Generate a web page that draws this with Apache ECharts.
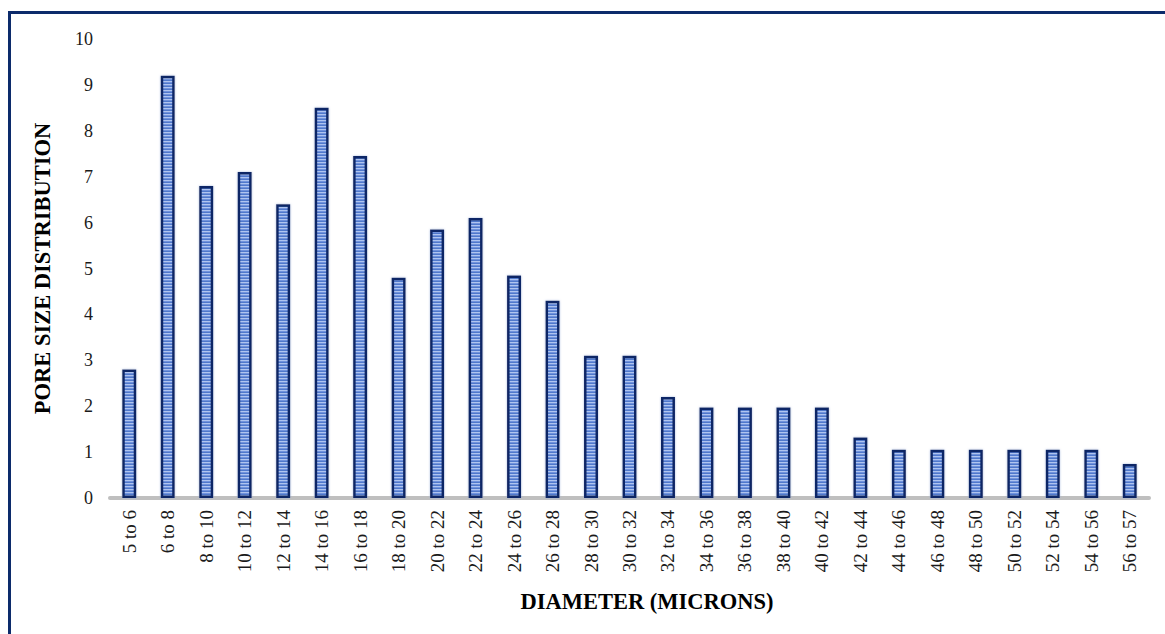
<!DOCTYPE html>
<html>
<head>
<meta charset="utf-8">
<title>Pore size distribution</title>
<script src="https://cdn.jsdelivr.net/npm/echarts@6/dist/echarts.min.js"></script>
<style>
  html, body { margin: 0; padding: 0; background: #fff; }
  #container1 { width: 1165px; height: 634px; }
</style>
</head>
<body>
<div id="container1"></div>
<script>
var categories = ['5 to 6', '6 to 8', '8 to 10', '10 to 12', '12 to 14', '14 to 16', '16 to 18',
    '18 to 20', '20 to 22', '22 to 24', '24 to 26', '26 to 28', '28 to 30', '30 to 32',
    '32 to 34', '34 to 36', '36 to 38', '38 to 40', '40 to 42', '42 to 44', '44 to 46',
    '46 to 48', '48 to 50', '50 to 52', '52 to 54', '54 to 56', '56 to 57'];
var poreValues = [2.8, 9.2, 6.8, 7.1, 6.4, 8.5, 7.45,
    4.8, 5.85, 6.1, 4.85, 4.3, 3.1, 3.1,
    2.2, 1.97, 1.97, 1.97, 1.97, 1.32, 1.05,
    1.05, 1.05, 1.05, 1.05, 1.05, 0.74];
var yTicks = [0, 10, 1];   // min, max, interval

var serif = '"Liberation Serif", "DejaVu Serif", serif';

// horizontal stripe fill like the excel "narrow horizontal" pattern
function stripeImage() {
    var c = document.createElement('canvas');
    c.width = 4;
    c.height = 3;
    var ctx = c.getContext('2d');
    ctx.fillStyle = '#afc4ef';
    ctx.fillRect(0, 0, 4, 1);
    ctx.fillStyle = '#6f92dc';
    ctx.fillRect(0, 1, 4, 1);
    ctx.fillStyle = '#5078cb';
    ctx.fillRect(0, 2, 4, 1);
    return c.toDataURL();
}

var dom = document.getElementById("container1");
var myChart = echarts.init(dom, null, { renderer: 'svg' });

var option = {
    animation: false,
    grid: { left: 110, right: 16, top: 39, bottom: 136 },
    xAxis: {
        type: 'category',
        data: categories,
        axisLine: { lineStyle: { color: '#bfbfbf', width: 4 } },
        axisTick: { show: false },
        axisLabel: {
            rotate: 90,
            margin: 12,
            interval: 0,
            color: '#1a1a1a',
            fontFamily: serif,
            fontSize: 19
        }
    },
    yAxis: {
        type: 'value',
        min: yTicks[0],
        max: yTicks[1],
        interval: yTicks[2],
        name: 'PORE SIZE DISTRIBUTION',
        nameLocation: 'middle',
        nameRotate: 90,
        nameGap: 56,
        nameTextStyle: { fontFamily: serif, fontSize: 22.5, fontWeight: 'bold', color: '#000' },
        axisLine: { show: false },
        axisTick: { show: false },
        splitLine: { show: false },
        axisLabel: { margin: 17, color: '#1a1a1a', fontFamily: serif, fontSize: 18 }
    },
    series: [{
        type: 'bar',
        data: poreValues,
        barWidth: 14,
        itemStyle: {
            color: { image: stripeImage(), repeat: 'repeat' },
            borderColor: '#0f2866',
            borderWidth: 2.5,
            shadowColor: 'rgba(160,180,220,0.9)',
            shadowBlur: 2
        }
    }],
    graphic: [
        {
            type: 'rect',
            shape: { x: 9.5, y: 12.5, width: 1200, height: 700 },
            style: { fill: 'none', stroke: '#0c2b6b', lineWidth: 3 },
            silent: true
        },
        {
            type: 'text',
            x: 647,
            y: 601,
            style: {
                text: 'DIAMETER (MICRONS)',
                fill: '#000',
                font: 'bold 22.5px ' + serif,
                textAlign: 'center',
                textVerticalAlign: 'middle'
            }
        }
    ]
};

myChart.setOption(option, true);
</script>
</body>
</html>
